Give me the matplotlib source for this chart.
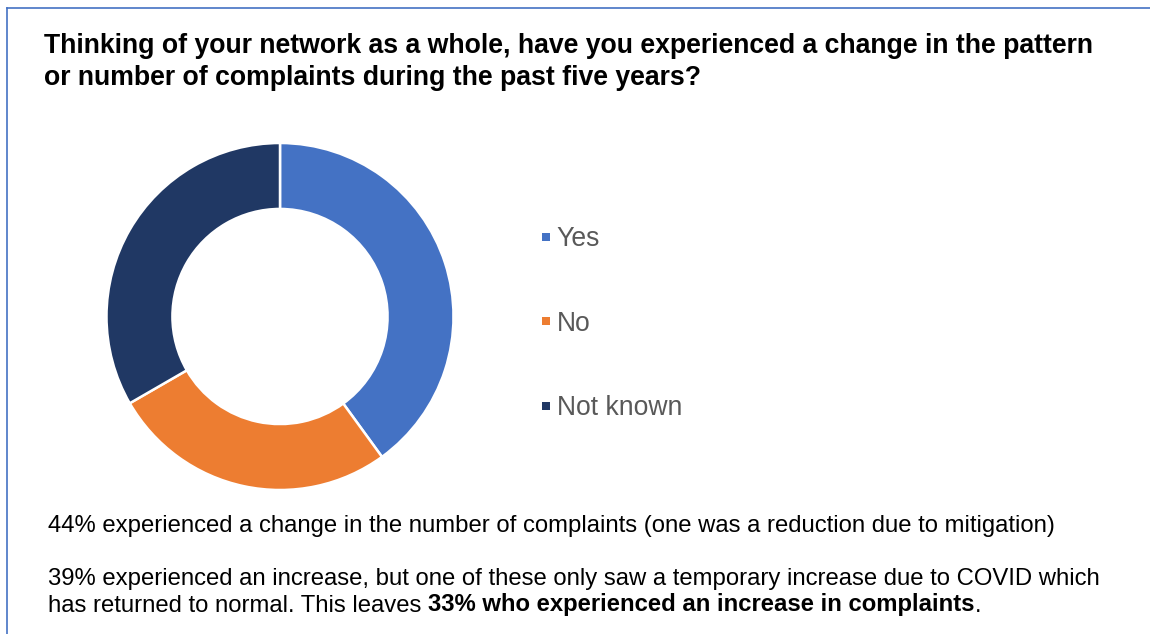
import matplotlib
matplotlib.use("Agg")
import matplotlib.pyplot as plt
from matplotlib.lines import Line2D

categories = ["Yes", "No", "Not known"]
values = [12, 8, 10]
colors = ["#4472C4", "#ED7D31", "#203864"]

title_lines = ["Thinking of your network as a whole, have you experienced a change in the pattern",
               "or number of complaints during the past five years?"]
note1 = "44% experienced a change in the number of complaints (one was a reduction due to mitigation)"
note2 = "39% experienced an increase, but one of these only saw a temporary increase due to COVID which"
note3_plain = "has returned to normal. This leaves "
note3_bold = "33% who experienced an increase in complaints"
note3_end = "."

W, H = 1150, 634
DPI = 100
plt.rcParams['font.family'] = ['Liberation Sans', 'DejaVu Sans']
fig = plt.figure(figsize=(W / DPI, H / DPI), dpi=DPI)

def fx(x):
    return x / W

def fy(y):
    return 1 - y / H

# border (top and left)
border = "#4472C4"
fig.add_artist(Line2D([fx(7), fx(7)], [fy(8), 0], transform=fig.transFigure, color=border, lw=1.2))
fig.add_artist(Line2D([fx(7), 1], [fy(8), fy(8)], transform=fig.transFigure, color=border, lw=1.2))

# title
tsize = 19.2
for i, line in enumerate(title_lines):
    fig.text(fx(44), fy(53 + i * 32), line, fontsize=tsize, fontweight='bold',
             ha='left', va='baseline', color='black')

# donut
cx, cy, r = 280, 316.5, 173.5
ax = fig.add_axes([fx(cx - r), fy(cy + r), 2 * r / W, 2 * r / H])
wedges, _ = ax.pie(values, colors=colors, startangle=90, counterclock=False, radius=1,
                   wedgeprops=dict(width=0.38, edgecolor='white', linewidth=1.8))
ax.set_xlim(-1, 1)
ax.set_ylim(-1, 1)
ax.set_aspect('equal')
ax.axis('off')

# legend
handles = [Line2D([], [], marker='s', linestyle='none', markersize=6, color=c,
                  markeredgewidth=0) for c in colors]
leg = fig.legend(handles, categories, loc='upper left', bbox_to_anchor=(fx(538), fy(226)),
                 frameon=False, fontsize=19.1, labelcolor='#595959', handlelength=0.6,
                 handletextpad=0.1, labelspacing=2.21, borderpad=0, borderaxespad=0)

# notes
nsize = 17.2
fig.text(fx(48), fy(532), note1, fontsize=nsize, ha='left', va='baseline')
fig.text(fx(48), fy(585.5), note2, fontsize=nsize, ha='left', va='baseline')
t1 = fig.text(fx(48), fy(611.5), note3_plain, fontsize=nsize, ha='left', va='baseline')
renderer = fig.canvas.get_renderer()
bb = t1.get_window_extent(renderer)
t2 = fig.text(bb.x1 / W, fy(611.5), note3_bold, fontsize=nsize, fontweight='bold', ha='left', va='baseline')
bb2 = t2.get_window_extent(renderer)
fig.text(bb2.x1 / W, fy(611.5), note3_end, fontsize=nsize, ha='left', va='baseline')

fig.savefig("out.png", dpi=DPI)
